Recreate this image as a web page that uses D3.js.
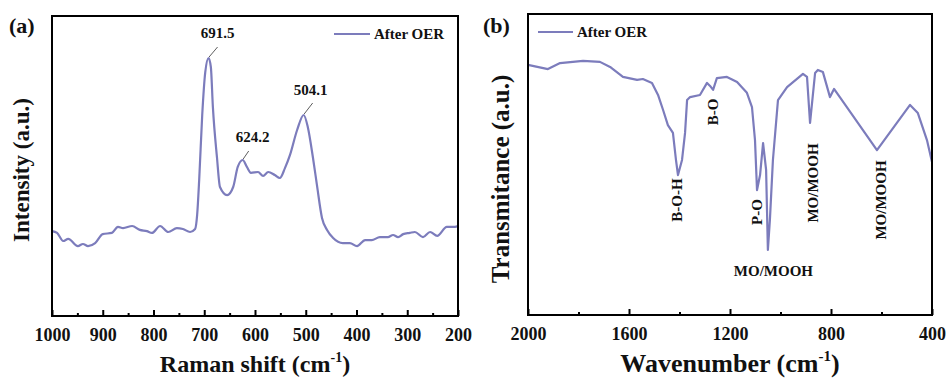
<!DOCTYPE html>
<html>
<head>
<meta charset="utf-8">
<script src="https://cdn.jsdelivr.net/npm/d3@7"></script>
<style>
  body { margin: 0; background: #fff; }
  svg { display: block; }
  text { font-family: "Liberation Serif", "Times New Roman", serif; font-weight: bold; fill: #111; }
</style>
</head>
<body>
<svg id="chart" width="946" height="379"></svg>
<script>
// ---- Raman spectrum (panel a) ----
const ramanShift = [1000, 990, 978, 968, 949, 939, 929, 915, 900, 882, 870, 860, 842, 827, 813, 803, 787, 771, 754, 742, 728, 718, 714, 710, 704, 698, 691.5, 687, 683, 675, 669, 655, 643, 634, 624.2, 616, 608, 594, 584, 574, 561, 551, 541, 531, 517, 504.1, 496, 486, 478, 468, 458, 446, 427, 413, 399, 383, 370, 354, 338, 328, 318, 308, 295, 285, 269, 255, 241, 222, 206, 200];
const ramanIntensity = [28.3, 27.7, 25.0, 25.7, 23.3, 24.0, 23.3, 24.3, 27.3, 27.7, 29.7, 29.3, 30.0, 28.7, 28.3, 27.7, 30.0, 28.0, 29.3, 29.0, 28.0, 29.0, 33.7, 45.3, 67.0, 81.3, 86.0, 83.0, 69.7, 53.0, 43.0, 40.3, 43.0, 49.7, 52.0, 49.7, 47.7, 48.0, 46.7, 48.0, 47.0, 46.0, 49.3, 53.7, 62.0, 67.0, 63.0, 53.0, 43.7, 32.7, 28.7, 26.0, 24.3, 24.3, 23.3, 25.3, 25.3, 26.3, 26.3, 27.0, 26.3, 27.3, 27.7, 28.0, 26.3, 28.0, 26.7, 29.7, 29.7, 30.0];
const ramanPeaks = [691.5, 624.2, 504.1];
const ramanTicks = [1000, 900, 800, 700, 600, 500, 400, 300, 200];

// ---- FT-IR spectrum (panel b) ----
const wavenumber = [2000, 1921, 1873, 1782, 1715, 1675, 1624, 1568, 1545, 1509, 1485, 1465, 1446, 1426, 1414, 1406, 1390, 1378, 1370, 1358, 1319, 1291, 1279, 1267, 1252, 1212, 1172, 1133, 1113, 1101, 1093, 1081, 1069, 1057, 1050, 1042, 1030, 1010, 974, 911, 895, 883, 863, 852, 832, 804, 788, 765, 618, 487, 456, 420, 400];
const transmittance = [83.1, 81.7, 83.7, 84.4, 84.1, 82.4, 79.1, 78.1, 78.4, 77.1, 73.1, 68.1, 63.1, 60.5, 51.5, 46.5, 51.5, 60.5, 71.4, 72.4, 73.1, 77.1, 76.1, 74.8, 78.7, 79.1, 77.4, 73.8, 69.1, 58.1, 41.5, 46.5, 57.1, 48.2, 21.6, 31.6, 51.5, 71.4, 75.7, 80.1, 79.1, 63.8, 80.4, 81.4, 80.7, 72.4, 75.1, 72.4, 54.8, 69.8, 67.1, 58.1, 50.8];
const irTicks = [2000, 1600, 1200, 800, 400];
const irMinorTicks = [1800, 1400, 1000, 600];
// band assignments: [wavenumber, label, vertical label?]
const irBands = [
  [1403, "B-O-H", true],
  [1265, "B-O", true],
  [1083, "P-O", true],
  [880, "MO/MOOH", true],
  [610, "MO/MOOH", true],
  [1040, "MO/MOOH", false]
];

const seriesName = "After OER";
const lineColor = "#7c7cbc";

const svg = d3.select("#chart");

function frame(g, x0, y0, w, h) {
  g.append("rect").attr("x", x0).attr("y", y0).attr("width", w).attr("height", h)
    .attr("fill", "none").attr("stroke", "#000").attr("stroke-width", 2);
}

function bottomTicks(g, x, y0, major, minor, fontSize) {
  const axis = d3.axisBottom(x).tickValues(major).tickSizeInner(-6).tickSizeOuter(0).tickPadding(12)
    .tickFormat(d3.format("d"));
  const ag = g.append("g").attr("transform", `translate(0,${y0})`).call(axis);
  ag.select(".domain").remove();
  ag.selectAll(".tick line").attr("stroke", "#000").attr("stroke-width", 2);
  ag.selectAll(".tick text").attr("font-size", fontSize).attr("fill", "#111")
    .attr("font-family", "Liberation Serif, Times New Roman, serif").attr("font-weight", "bold");
  const mg = g.append("g").attr("transform", `translate(0,${y0})`).call(
    d3.axisBottom(x).tickValues(minor).tickSizeInner(-3).tickSizeOuter(0).tickFormat(""));
  mg.select(".domain").remove();
  mg.selectAll(".tick line").attr("stroke", "#000").attr("stroke-width", 2);
}

// ================= panel (a) =================
{
  const L = 52, R = 458, T = 16, B = 316;
  const x = d3.scaleLinear().domain([1000, 200]).range([L, R]);
  const y = d3.scaleLinear().domain([0, 100]).range([B, T]);
  const g = svg.append("g");

  const pts = ramanShift.map((s, i) => [s, ramanIntensity[i]]);
  g.append("path").datum(pts)
    .attr("d", d3.line().x(d => x(d[0])).y(d => y(d[1])).curve(d3.curveMonotoneX))
    .attr("fill", "none").attr("stroke", lineColor).attr("stroke-width", 2.2);

  // peak labels with leader lines
  const labelOffset = [[9, -11, 9, -20], [6, -9, 10, -18], [9, -12, 7, -20]];
  ramanPeaks.forEach((p, k) => {
    const i = ramanShift.indexOf(p);
    const px = x(p), py = y(ramanIntensity[i]);
    const o = labelOffset[k];
    g.append("line").attr("x1", px + 0.5).attr("y1", py - 1).attr("x2", px + o[0]).attr("y2", py + o[1])
      .attr("stroke", "#333").attr("stroke-width", 0.8);
    g.append("text").attr("x", px + o[2]).attr("y", py + o[3]).attr("text-anchor", "middle")
      .attr("font-size", 15).text(d3.format(".1f")(p));
  });

  frame(g, L, T, R - L, B - T);
  bottomTicks(g, x, B, ramanTicks, ramanTicks.slice(1).map(v => v + 50), 18);

  // legend
  g.append("line").attr("x1", 334).attr("x2", 370).attr("y1", 34).attr("y2", 34)
    .attr("stroke", lineColor).attr("stroke-width", 2.2);
  g.append("text").attr("x", 374).attr("y", 39).attr("font-size", 15).text(seriesName);

  // titles
  const xt = g.append("text").attr("x", (L + R) / 2).attr("y", 372).attr("text-anchor", "middle").attr("font-size", 24);
  xt.append("tspan").text("Raman shift (cm");
  xt.append("tspan").attr("font-size", 14).attr("dy", -10).text("-1");
  xt.append("tspan").attr("dy", 10).text(")");
  g.append("text").attr("transform", "translate(29,170) rotate(-90)").attr("text-anchor", "middle")
    .attr("font-size", 23).text("Intensity (a.u.)");
  g.append("text").attr("x", 9).attr("y", 33).attr("font-size", 22).text("(a)");
}

// ================= panel (b) =================
{
  const L = 528, R = 932, T = 14, B = 315;
  const x = d3.scaleLinear().domain([2000, 400]).range([L, R]);
  const y = d3.scaleLinear().domain([0, 100]).range([B, T]);
  const g = svg.append("g");

  const pts = wavenumber.map((w, i) => [w, transmittance[i]]);
  g.append("path").datum(pts)
    .attr("d", d3.line().x(d => x(d[0])).y(d => y(d[1])))
    .attr("fill", "none").attr("stroke", lineColor).attr("stroke-width", 2.2)
    .attr("stroke-linejoin", "round");

  // band labels
  const pos = {
    "B-O-H": [682, 200], "B-O": [718, 112], "P-O": [762, 212]
  };
  irBands.forEach(([w, label, vertical], k) => {
    if (vertical) {
      let cx, cy;
      if (pos[label]) { cx = pos[label][0]; cy = pos[label][1]; }
      else { cx = x(w) + 7; cy = k === 3 ? 183 : 200; }
      g.append("text").attr("transform", `translate(${cx},${cy}) rotate(-90)`)
        .attr("text-anchor", "middle").attr("font-size", 15).text(label);
    } else {
      g.append("text").attr("x", x(w) + 3).attr("y", 276).attr("text-anchor", "middle")
        .attr("font-size", 15).text(label);
    }
  });

  frame(g, L, T, R - L, B - T);
  bottomTicks(g, x, B, irTicks, irMinorTicks, 18);

  // legend
  g.append("line").attr("x1", 538).attr("x2", 573).attr("y1", 32).attr("y2", 32)
    .attr("stroke", lineColor).attr("stroke-width", 2.2);
  g.append("text").attr("x", 577).attr("y", 37).attr("font-size", 15).text(seriesName);

  const xt = g.append("text").attr("x", (L + R) / 2).attr("y", 372).attr("text-anchor", "middle").attr("font-size", 26);
  xt.append("tspan").text("Wavenumber (cm");
  xt.append("tspan").attr("font-size", 15).attr("dy", -11).text("-1");
  xt.append("tspan").attr("dy", 11).text(")");
  g.append("text").attr("transform", "translate(509,179) rotate(-90)").attr("text-anchor", "middle")
    .attr("font-size", 25).text("Transmitance (a.u.)");
  g.append("text").attr("x", 483).attr("y", 33).attr("font-size", 22).text("(b)");
}
</script>
</body>
</html>
